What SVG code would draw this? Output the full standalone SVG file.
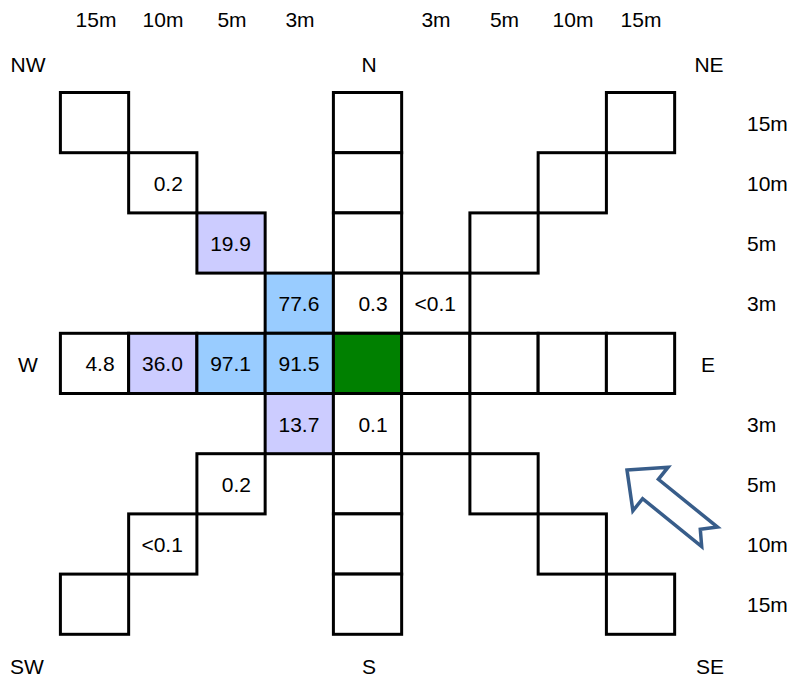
<svg xmlns="http://www.w3.org/2000/svg" width="795" height="682" viewBox="0 0 795 682">
<style>
.cell{fill:#fff;stroke:#000;stroke-width:3}
.lav{fill:#ccccff}
.blue{fill:#99ccff}
.green{fill:#008000}
text{font-family:"Liberation Sans",Arial,sans-serif;font-size:21px;fill:#000}
.v{text-anchor:end}
.c{text-anchor:middle}
.arrow{fill:#fff;stroke:#385d8a;stroke-width:3.5;stroke-linejoin:miter}
</style>
<rect width="795" height="682" fill="#fff"/>
<g id="labels">
<text class="c" x="96" y="27">15m</text>
<text class="c" x="163" y="27">10m</text>
<text class="c" x="232" y="27">5m</text>
<text class="c" x="300" y="27">3m</text>
<text class="c" x="436" y="27">3m</text>
<text class="c" x="504.5" y="27">5m</text>
<text class="c" x="573" y="27">10m</text>
<text class="c" x="641" y="27">15m</text>
<text class="c" x="28" y="72">NW</text>
<text class="c" x="369" y="72">N</text>
<text class="c" x="709" y="72">NE</text>
<text class="c" x="28" y="372">W</text>
<text class="c" x="708" y="372">E</text>
<text class="c" x="27" y="674">SW</text>
<text class="c" x="369" y="674">S</text>
<text class="c" x="710" y="674">SE</text>
<text x="747" y="130.6">15m</text>
<text x="747" y="190.8">10m</text>
<text x="747" y="251">5m</text>
<text x="747" y="311.2">3m</text>
<text x="747" y="431.6">3m</text>
<text x="747" y="491.8">5m</text>
<text x="747" y="552">10m</text>
<text x="747" y="612.2">15m</text>
</g>
<g id="cell-r0c0"><rect class="cell" x="60.4" y="92.5" width="68.25" height="60.2"/></g>
<g id="cell-r0c4"><rect class="cell" x="333.4" y="92.5" width="68.25" height="60.2"/></g>
<g id="cell-r0c8"><rect class="cell" x="606.4" y="92.5" width="68.25" height="60.2"/></g>
<g id="cell-r1c1"><rect class="cell" x="128.65" y="152.7" width="68.25" height="60.2"/><text class="v" x="182.9" y="190.8">0.2</text></g>
<g id="cell-r1c4"><rect class="cell" x="333.4" y="152.7" width="68.25" height="60.2"/></g>
<g id="cell-r1c7"><rect class="cell" x="538.15" y="152.7" width="68.25" height="60.2"/></g>
<g id="cell-r2c2"><rect class="cell lav" x="196.9" y="212.9" width="68.25" height="60.2"/><text class="v" x="251" y="251">19.9</text></g>
<g id="cell-r2c4"><rect class="cell" x="333.4" y="212.9" width="68.25" height="60.2"/></g>
<g id="cell-r2c6"><rect class="cell" x="469.9" y="212.9" width="68.25" height="60.2"/></g>
<g id="cell-r3c3"><rect class="cell blue" x="265.15" y="273.1" width="68.25" height="60.2"/><text class="v" x="319.4" y="311.2">77.6</text></g>
<g id="cell-r3c4"><rect class="cell" x="333.4" y="273.1" width="68.25" height="60.2"/><text class="v" x="387.6" y="311.2">0.3</text></g>
<g id="cell-r3c5"><rect class="cell" x="401.65" y="273.1" width="68.25" height="60.2"/><text class="v" x="456" y="311.2">&lt;0.1</text></g>
<g id="cell-r4c0"><rect class="cell" x="60.4" y="333.3" width="68.25" height="60.2"/><text class="v" x="114.6" y="371.4">4.8</text></g>
<g id="cell-r4c1"><rect class="cell lav" x="128.65" y="333.3" width="68.25" height="60.2"/><text class="v" x="182.9" y="371.4">36.0</text></g>
<g id="cell-r4c2"><rect class="cell blue" x="196.9" y="333.3" width="68.25" height="60.2"/><text class="v" x="251" y="371.4">97.1</text></g>
<g id="cell-r4c3"><rect class="cell blue" x="265.15" y="333.3" width="68.25" height="60.2"/><text class="v" x="319.4" y="371.4">91.5</text></g>
<g id="cell-center"><rect class="cell green" x="333.4" y="333.3" width="68.25" height="60.2"/></g>
<g id="cell-r4c5"><rect class="cell" x="401.65" y="333.3" width="68.25" height="60.2"/></g>
<g id="cell-r4c6"><rect class="cell" x="469.9" y="333.3" width="68.25" height="60.2"/></g>
<g id="cell-r4c7"><rect class="cell" x="538.15" y="333.3" width="68.25" height="60.2"/></g>
<g id="cell-r4c8"><rect class="cell" x="606.4" y="333.3" width="68.25" height="60.2"/></g>
<g id="cell-r5c3"><rect class="cell lav" x="265.15" y="393.5" width="68.25" height="60.2"/><text class="v" x="319.4" y="431.6">13.7</text></g>
<g id="cell-r5c4"><rect class="cell" x="333.4" y="393.5" width="68.25" height="60.2"/><text class="v" x="387.6" y="431.6">0.1</text></g>
<g id="cell-r5c5"><rect class="cell" x="401.65" y="393.5" width="68.25" height="60.2"/></g>
<g id="cell-r6c2"><rect class="cell" x="196.9" y="453.7" width="68.25" height="60.2"/><text class="v" x="251" y="491.8">0.2</text></g>
<g id="cell-r6c4"><rect class="cell" x="333.4" y="453.7" width="68.25" height="60.2"/></g>
<g id="cell-r6c6"><rect class="cell" x="469.9" y="453.7" width="68.25" height="60.2"/></g>
<g id="cell-r7c1"><rect class="cell" x="128.65" y="513.9" width="68.25" height="60.2"/><text class="v" x="182.9" y="552">&lt;0.1</text></g>
<g id="cell-r7c4"><rect class="cell" x="333.4" y="513.9" width="68.25" height="60.2"/></g>
<g id="cell-r7c7"><rect class="cell" x="538.15" y="513.9" width="68.25" height="60.2"/></g>
<g id="cell-r8c0"><rect class="cell" x="60.4" y="574.1" width="68.25" height="60.2"/></g>
<g id="cell-r8c4"><rect class="cell" x="333.4" y="574.1" width="68.25" height="60.2"/></g>
<g id="cell-r8c8"><rect class="cell" x="606.4" y="574.1" width="68.25" height="60.2"/></g>
<g id="connectors"></g>
<g id="wind-arrow"><polygon class="arrow" points="627,470 668.1,467.2 658.4,479.3 717.5,527.1 700.3,529.3 701.7,546.5 642.6,498.7 632.9,510.8"/></g>
</svg>
